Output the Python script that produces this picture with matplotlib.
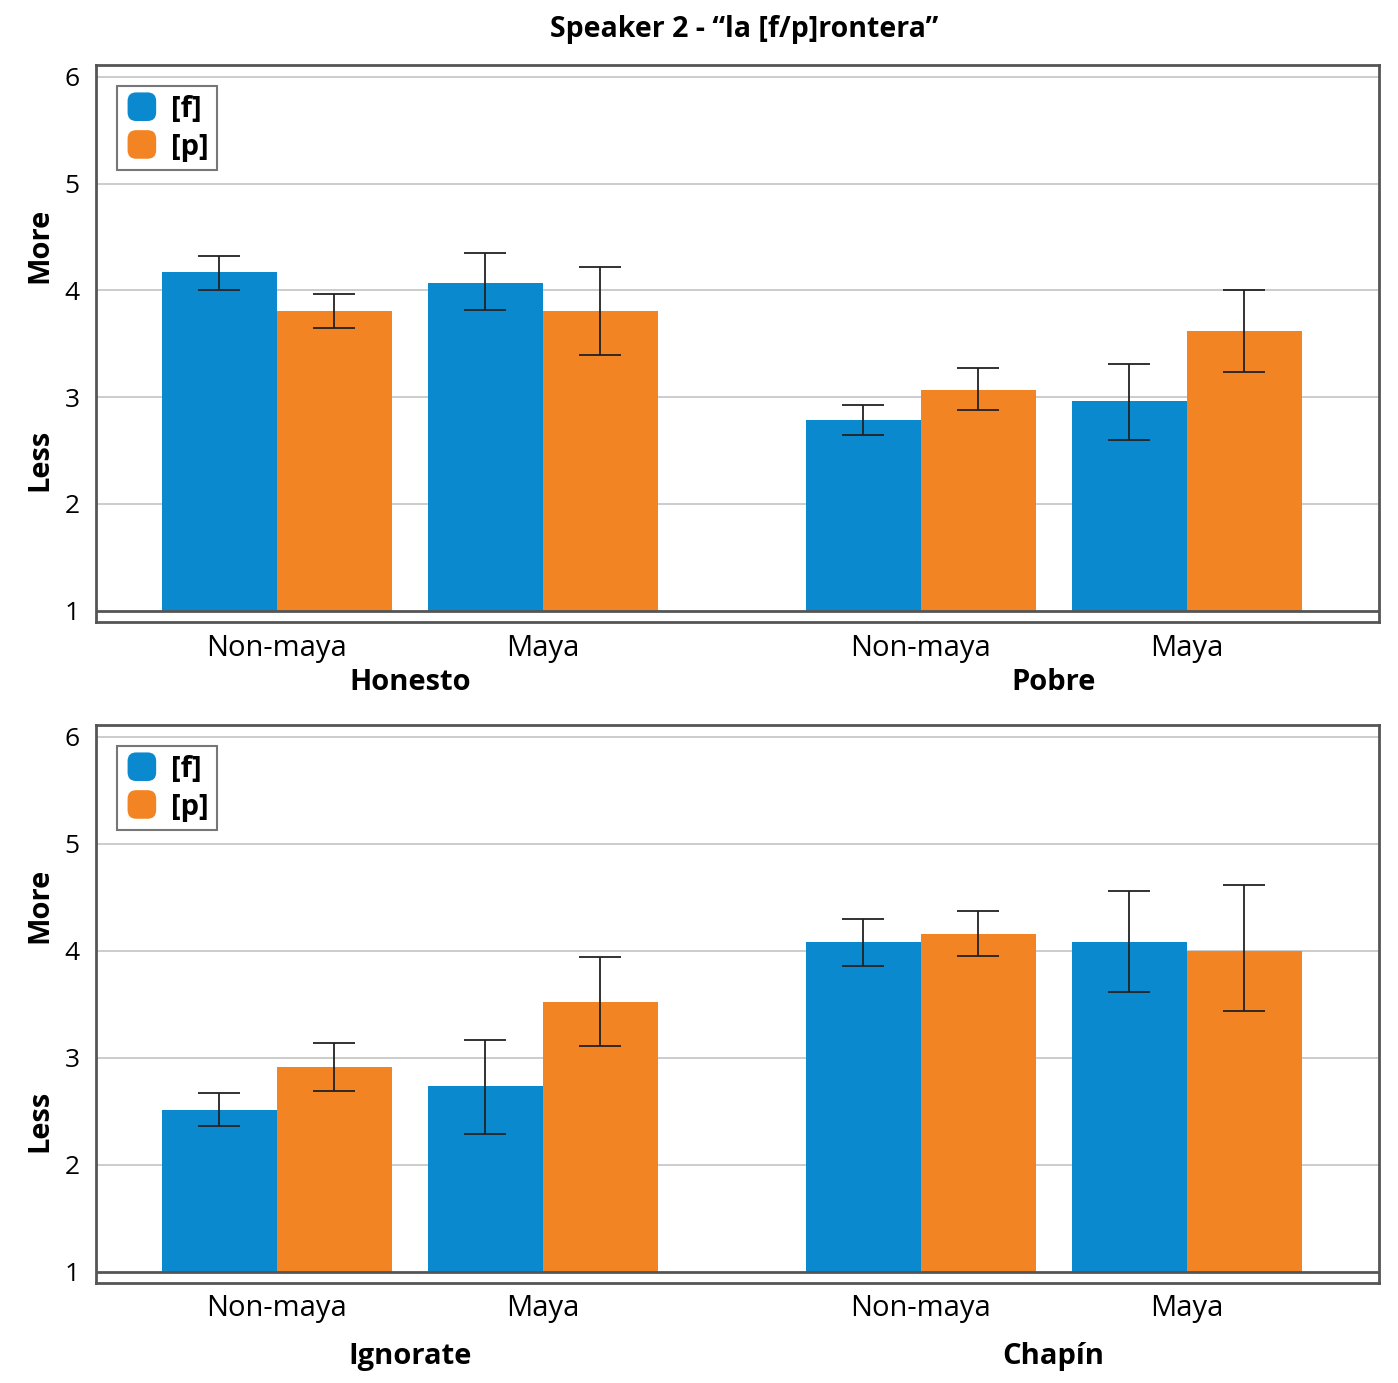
import matplotlib.pyplot as plt
import matplotlib.transforms as mtransforms
from matplotlib.patches import FancyBboxPatch
from matplotlib.legend_handler import HandlerPatch
import numpy as np

plt.rcParams['font.family'] = ['Open Sans', 'DejaVu Sans']

title = 'Speaker 2 - \u201cla [f/p]rontera\u201d'
groups = ['Non-maya', 'Maya']
panels = [['Honesto', 'Pobre'], ['Ignorate', 'Chap\u00edn']]
series = ['[f]', '[p]']

# values per panel: [group1 nonmaya, group1 maya, group2 nonmaya, group2 maya]
f_vals = [[4.17, 4.07, 2.79, 2.96], [2.51, 2.74, 4.08, 4.08]]
f_hi = [[4.32, 4.35, 2.93, 3.31], [2.67, 3.17, 4.30, 4.56]]
f_lo = [[4.00, 3.82, 2.65, 2.60], [2.36, 2.29, 3.86, 3.61]]
p_vals = [[3.81, 3.81, 3.07, 3.62], [2.91, 3.52, 4.16, 4.00]]
p_hi = [[3.97, 4.22, 3.27, 4.00], [3.14, 3.94, 4.37, 4.61]]
p_lo = [[3.65, 3.39, 2.88, 3.24], [2.69, 3.11, 3.95, 3.44]]

blue = '#0A89CE'
orange = '#F38423'
edge = '#555555'

centers = np.array([0, 1, 2.42, 3.42])
w = 0.432


class RoundHandler(HandlerPatch):
    def create_artists(self, legend, orig_handle, xdescent, ydescent, width,
                       height, fontsize, trans):
        s = height * 1.4
        p = FancyBboxPatch((-xdescent + (width - s) / 2, -ydescent + (height - s) / 2),
                           s, s, boxstyle='round,pad=0,rounding_size=%f' % (s * 0.3),
                           facecolor=orig_handle.get_facecolor(), edgecolor='none',
                           transform=trans)
        return [p]


fig = plt.figure(figsize=(13.98, 13.83), dpi=100)
ax_top = fig.add_axes([0.0687, 0.5503, 0.9177, 0.4027])
ax_bot = fig.add_axes([0.0687, 0.0723, 0.9177, 0.4035])

fig.text(0.532, 0.979, title, ha='center', va='center', fontsize=20.5, fontweight='bold')

label_pos = [(-0.047, -0.108), (-0.046, -0.132)]

for i, ax in enumerate([ax_top, ax_bot]):
    f = np.array(f_vals[i])
    p = np.array(p_vals[i])
    bf = ax.bar(centers - w / 2, f - 1, w, bottom=1, color=blue, label=series[0], zorder=3)
    bp = ax.bar(centers + w / 2, p - 1, w, bottom=1, color=orange, label=series[1], zorder=3)
    ferr = [f - np.array(f_lo[i]), np.array(f_hi[i]) - f]
    perr = [p - np.array(p_lo[i]), np.array(p_hi[i]) - p]
    ax.errorbar(centers - w / 2, f, yerr=ferr, fmt='none', ecolor='#222222',
                elinewidth=1.3, capsize=15, capthick=1.3, zorder=4)
    ax.errorbar(centers + w / 2, p, yerr=perr, fmt='none', ecolor='#222222',
                elinewidth=1.3, capsize=15, capthick=1.3, zorder=4)

    ax.set_xlim(-0.680, 4.143)
    ax.set_ylim(0.895, 6.11)
    ax.set_yticks([1, 2, 3, 4, 5, 6])
    ax.set_yticklabels(['1', '2', '3', '4', '5', '6'], fontsize=19)
    ax.tick_params(axis='y', length=0, pad=12)
    ax.set_xticks([])
    for y in [2, 3, 4, 5, 6]:
        ax.axhline(y, color='#c4c4c4', lw=1.2, zorder=1)
    ax.axhline(1, color=edge, lw=2, zorder=5)
    for s in ax.spines.values():
        s.set_color(edge)
        s.set_linewidth(2)

    cy, gy = label_pos[i]
    for c, g in zip(centers, groups * 2):
        ax.text(c, cy, g, transform=ax.get_xaxis_transform(), ha='center',
                va='center', fontsize=21)
    for k, name in enumerate(panels[i]):
        gx = (centers[2 * k] + centers[2 * k + 1]) / 2
        ax.text(gx, gy, name, transform=ax.get_xaxis_transform(), ha='center',
                va='center', fontsize=21, fontweight='bold')

    trans = mtransforms.blended_transform_factory(ax.transAxes, ax.transData)
    ax.text(-0.0437, 4.42, 'More', transform=trans, rotation=90, ha='center',
            va='center', fontsize=21, fontweight='bold')
    ax.text(-0.0437, 2.41, 'Less', transform=trans, rotation=90, ha='center',
            va='center', fontsize=21, fontweight='bold')

    leg = ax.legend(handles=[bf.patches[0], bp.patches[0]], labels=series,
                    loc='upper left', bbox_to_anchor=(0.0164, 0.962), fontsize=21,
                    frameon=True, fancybox=False, borderaxespad=0,
                    handler_map={type(bf.patches[0]): RoundHandler()},
                    handlelength=1.1, handletextpad=0.45, borderpad=0.3,
                    labelspacing=0.3)
    leg.get_frame().set_edgecolor(edge)
    leg.get_frame().set_linewidth(1.5)
    for t in leg.get_texts():
        t.set_fontweight('bold')

fig.savefig('out.png', dpi=100)
